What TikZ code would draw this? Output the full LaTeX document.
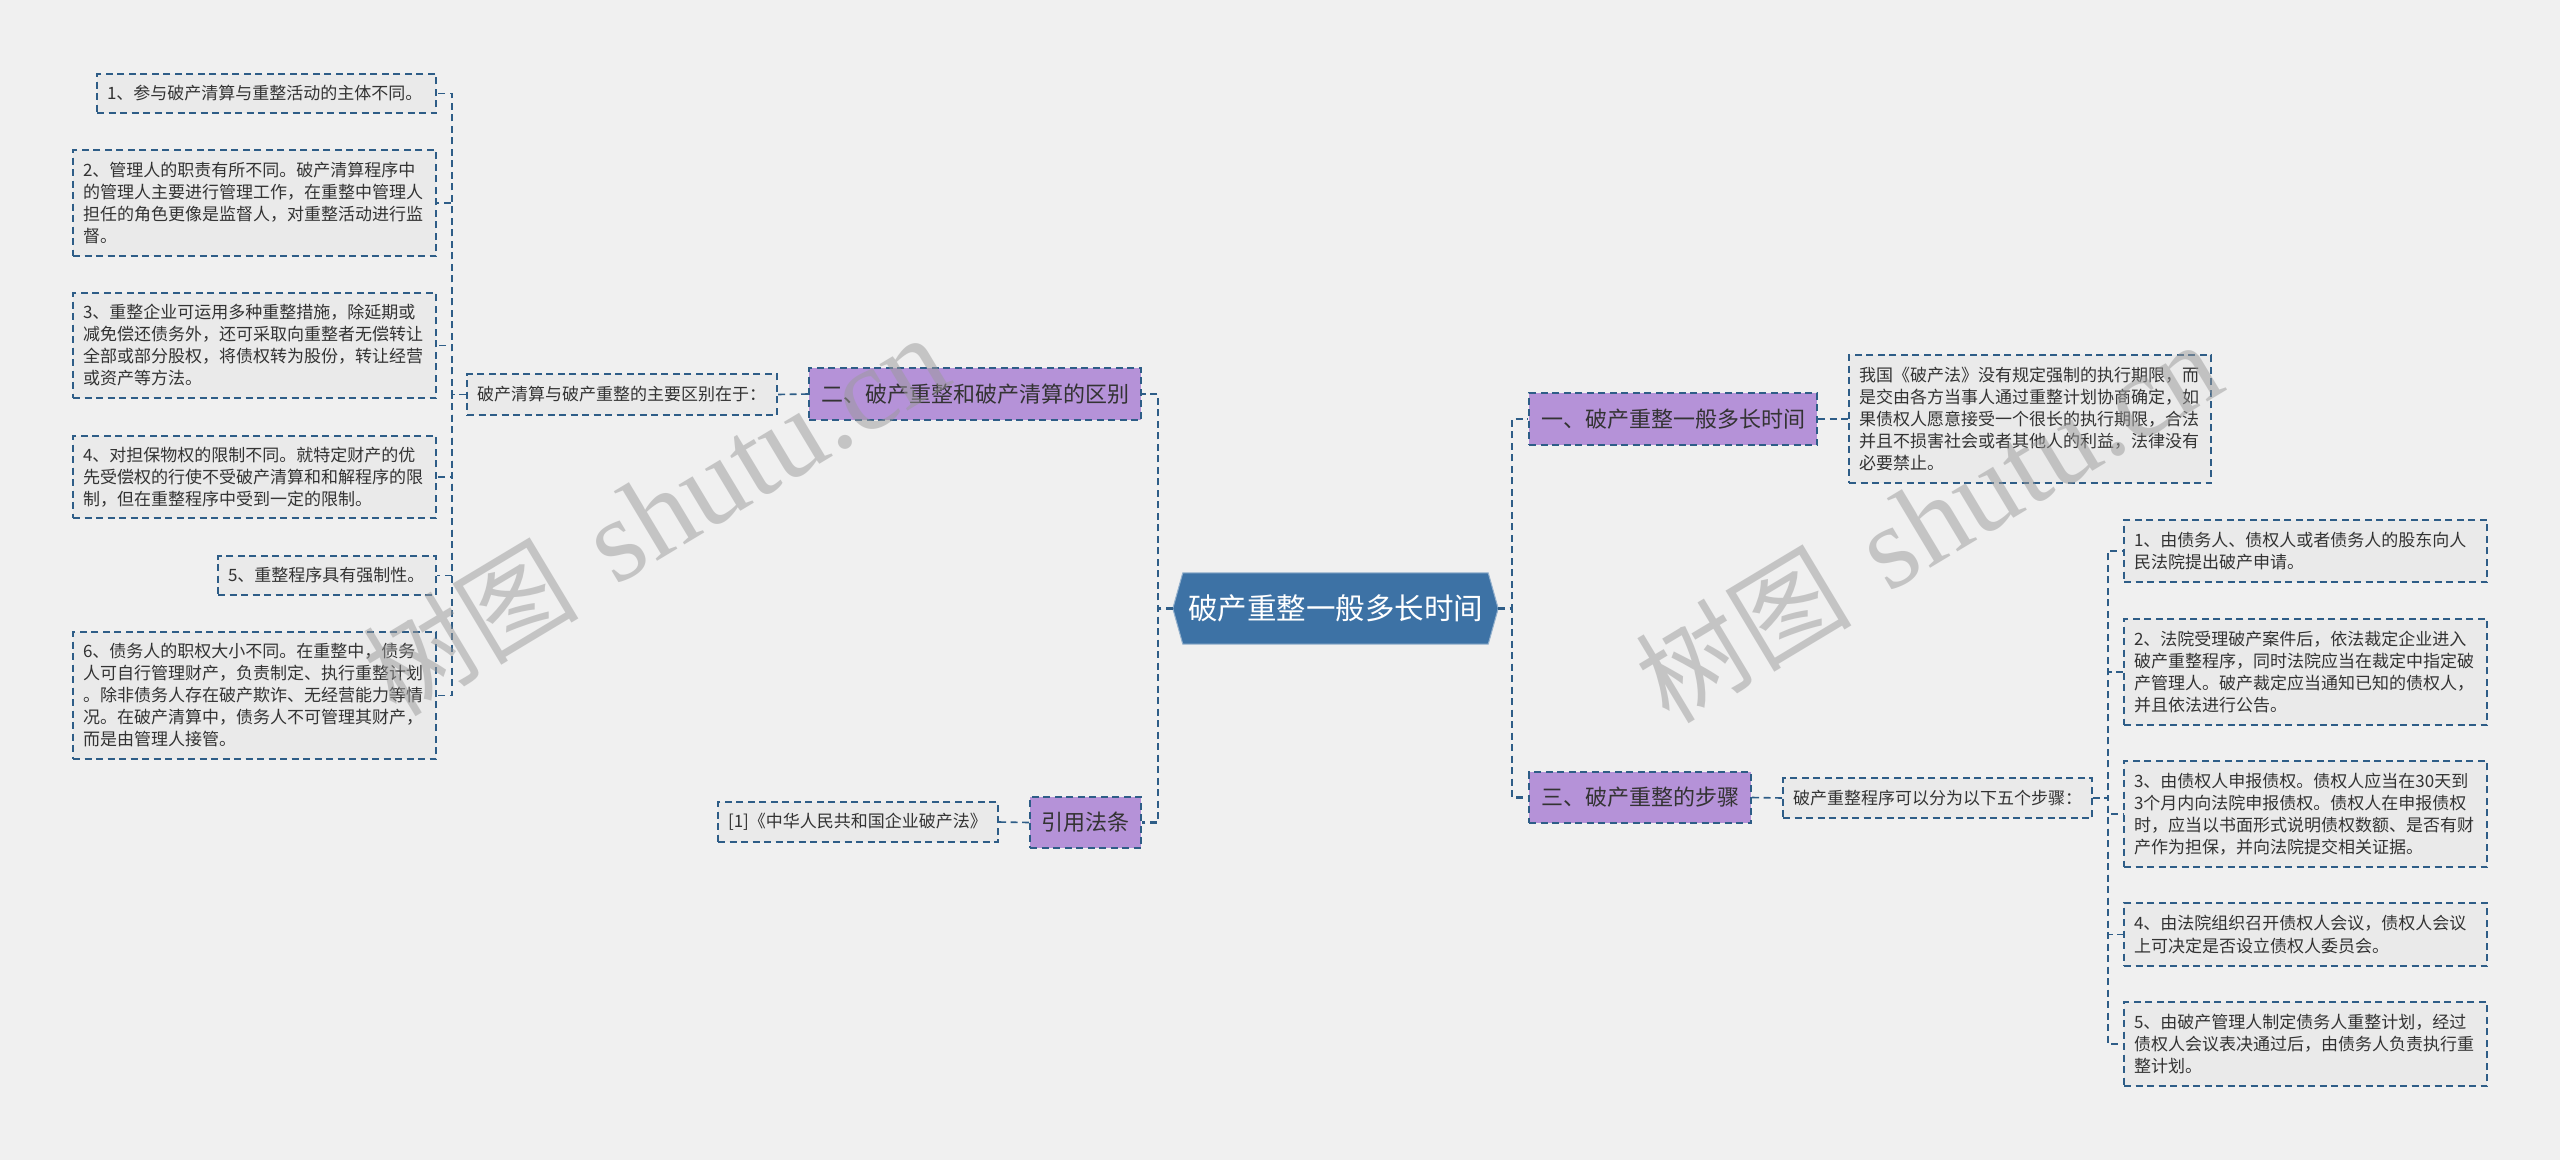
\documentclass[tikz,border=0pt]{standalone}
\usepackage{fontspec}
\newfontfamily\cjk{Noto Sans CJK SC}
\newfontfamily\wmserif{Liberation Serif}
\usetikzlibrary{calc}
\definecolor{bgc}{HTML}{F0F0F0}
\definecolor{leaffill}{HTML}{EAEAEA}
\definecolor{linec}{HTML}{2E5D87}
\definecolor{topicfill}{HTML}{B592D8}
\definecolor{centerfill}{HTML}{3D72A5}
\definecolor{txt}{HTML}{333333}
\definecolor{wmc}{HTML}{9A9A9A}
\pgfdeclarelayer{bg}
\pgfsetlayers{bg,main}
\begin{document}
\begin{tikzpicture}[x=1pt,y=1pt,
  leaf/.style={draw=linec, fill=leaffill, line width=1.6pt, dash pattern=on 7pt off 4.5pt,
    inner xsep=10pt, inner ysep=0pt, align=left, anchor=center, text=txt,
    font=\cjk\fontsize{17}{22}\selectfont},
  topic/.style={draw=linec, fill=topicfill, line width=2pt, dash pattern=on 7pt off 4.5pt,
    inner sep=0pt, anchor=center, text=txt, font=\cjk\fontsize{22}{26}\selectfont},
  centre/.style={inner sep=0pt, anchor=center, text=white, font=\cjk\fontsize{29.5}{34}\selectfont},
  conn/.style={draw=linec, line width=2.4pt, dash pattern=on 7pt off 4.5pt},
  thin/.style={draw=linec, line width=1.6pt, dash pattern=on 7pt off 4.5pt},
  wmark/.style={text=wmc, opacity=0.5, rotate=31, inner sep=0pt}
]
\begin{pgfonlayer}{bg}
\fill[bgc] (0,0) rectangle (2560,-1160);
\end{pgfonlayer}
\useasboundingbox (0,0) rectangle (2560,-1160);

% central
\node[centre, minimum width=325pt, minimum height=71pt] (c) at (1335.5,-608.5) {破产重整一般多长时间};
\begin{pgfonlayer}{bg}
\filldraw[fill=centerfill, draw=white!45!centerfill, line width=1pt]
  (c.west) -- ([xshift=10pt]c.north west) -- ([xshift=-10pt]c.north east) -- (c.east)
  -- ([xshift=-10pt]c.south east) -- ([xshift=10pt]c.south west) -- cycle;
\end{pgfonlayer}

% topics
\node[topic, minimum width=332pt, minimum height=52pt] (t2) at (975,-394) {二、破产重整和破产清算的区别};
\node[topic, minimum width=111pt, minimum height=51pt] (tref) at (1085.5,-822.5) {引用法条};
\node[topic, minimum width=288pt, minimum height=52pt] (t1) at (1673,-419) {一、破产重整一般多长时间};
\node[topic, minimum width=222pt, minimum height=51pt] (t3) at (1640,-797.5) {三、破产重整的步骤};

% left side
\node[leaf, text width=290pt, minimum height=41pt] (s2) at (622,-394.5) {破产清算与破产重整的主要区别在于：};
\node[leaf, text width=260pt, minimum height=40pt] (ref) at (858,-822) {[1]《中华人民共和国企业破产法》};

\node[leaf, text width=319pt, minimum height=39pt] (L1) at (266.5,-93.5) {1、参与破产清算与重整活动的主体不同。};
\node[leaf, text width=343pt, minimum height=106pt] (L2) at (254.5,-203) {2、管理人的职责有所不同。破产清算程序中\\的管理人主要进行管理工作，在重整中管理人\\担任的角色更像是监督人，对重整活动进行监\\督。};
\node[leaf, text width=343pt, minimum height=105pt] (L3) at (254.5,-345.5) {3、重整企业可运用多种重整措施，除延期或\\减免偿还债务外，还可采取向重整者无偿转让\\全部或部分股权，将债权转为股份，转让经营\\或资产等方法。};
\node[leaf, text width=343pt, minimum height=82pt] (L4) at (254.5,-477) {4、对担保物权的限制不同。就特定财产的优\\先受偿权的行使不受破产清算和和解程序的限\\制，但在重整程序中受到一定的限制。};
\node[leaf, text width=198pt, minimum height=39pt] (L5) at (327,-575.5) {5、重整程序具有强制性。};
\node[leaf, text width=343pt, minimum height=127pt] (L6) at (254.5,-695.5) {6、债务人的职权大小不同。在重整中，债务\\人可自行管理财产，负责制定、执行重整计划\\。除非债务人存在破产欺诈、无经营能力等情\\况。在破产清算中，债务人不可管理其财产，\\而是由管理人接管。};

% right side
\node[leaf, text width=342pt, minimum height=128pt] (n1) at (2030,-419) {我国《破产法》没有规定强制的执行期限，而\\是交由各方当事人通过重整计划协商确定，如\\果债权人愿意接受一个很长的执行期限，合法\\并且不损害社会或者其他人的利益，法律没有\\必要禁止。};
\node[leaf, text width=289pt, minimum height=40pt] (s3) at (1937.5,-798) {破产重整程序可以分为以下五个步骤：};

\node[leaf, text width=343pt, minimum height=62pt] (R1) at (2305.5,-551) {1、由债务人、债权人或者债务人的股东向人\\民法院提出破产申请。};
\node[leaf, text width=343pt, minimum height=106pt] (R2) at (2305.5,-672) {2、法院受理破产案件后，依法裁定企业进入\\破产重整程序，同时法院应当在裁定中指定破\\产管理人。破产裁定应当通知已知的债权人，\\并且依法进行公告。};
\node[leaf, text width=343pt, minimum height=106pt] (R3) at (2305.5,-814) {3、由债权人申报债权。债权人应当在30天到\\3个月内向法院申报债权。债权人在申报债权\\时，应当以书面形式说明债权数额、是否有财\\产作为担保，并向法院提交相关证据。};
\node[leaf, text width=343pt, minimum height=63pt] (R4) at (2305.5,-934.5) {4、由法院组织召开债权人会议，债权人会议\\上可决定是否设立债权人委员会。};
\node[leaf, text width=343pt, minimum height=84pt] (R5) at (2305.5,-1044) {5、由破产管理人制定债务人重整计划，经过\\债权人会议表决通过后，由债务人负责执行重\\整计划。};

% connectors: centre to topics
\foreach \t in {t2,tref}
  \draw[conn] (c.west) -| ($(\t.east)+(16pt,0)$) -- (\t.east);
\foreach \t in {t1,t3}
  \draw[conn] (c.east) -| ($(\t.west)+(-16pt,0)$) -- (\t.west);

% topic to child
\draw[thin] (t2.west) -- (s2.east);
\draw[thin] (tref.west) -- (ref.east);
\draw[thin] (t1.east) -- (n1.west);
\draw[thin] (t3.east) -- (s3.west);

% brackets
\foreach \l in {L1,L2,L3,L4,L5,L6}
  \draw[thin] (s2.west) -| ($(\l.east)+(15pt,0)$) -- (\l.east);
\foreach \r in {R1,R2,R3,R4,R5}
  \draw[thin] (s3.east) -| ($(\r.west)+(-15pt,0)$) -- (\r.west);

% watermarks
\node[wmark] (wm1) at (655,-515) {{\cjk\fontsize{108}{110}\selectfont 树图}\hspace{40pt}{\wmserif\fontsize{118}{118}\selectfont shutu.cn}};
\node[wmark] (wm2) at (1928,-522) {{\cjk\fontsize{108}{110}\selectfont 树图}\hspace{40pt}{\wmserif\fontsize{118}{118}\selectfont shutu.cn}};
\end{tikzpicture}
\end{document}
